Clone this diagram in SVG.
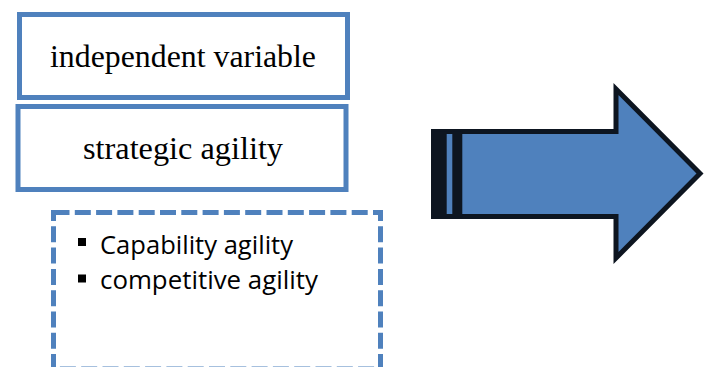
<svg xmlns="http://www.w3.org/2000/svg" width="709" height="367" viewBox="0 0 709 367">
  <style>
    .box { fill: #ffffff; stroke: #4F81BD; stroke-width: 5; }
    .dash { fill: none; stroke: #4F81BD; stroke-width: 5; stroke-dasharray: 16 5.3; }
    .serif { font-family: "Liberation Serif", "Times New Roman", serif; font-size: 32px; fill: #000; }
    .sans { font-family: "Open Sans", "Noto Sans", "Liberation Sans", sans-serif; font-size: 26px; fill: #000; }
    .bullet { fill: #000; }
    .arrow { fill: #4F81BD; stroke: #0D1520; stroke-width: 5; stroke-linejoin: miter; stroke-miterlimit: 10; }
  </style>

  <rect width="709" height="367" fill="#ffffff"/>

  <!-- heading box -->
  <g id="independent-variable">
    <rect class="box" x="19.5" y="14.5" width="328" height="83"/>
    <text class="serif" x="50" y="67" textLength="266" lengthAdjust="spacingAndGlyphs">independent variable</text>
  </g>

  <!-- construct box -->
  <g id="strategic-agility">
    <rect class="box" x="18" y="106.5" width="328" height="83"/>
    <text class="serif" x="83" y="159" textLength="200" lengthAdjust="spacingAndGlyphs">strategic agility</text>
  </g>

  <!-- dimensions list -->
  <g id="dimensions">
    <rect class="dash" x="53.5" y="212.5" width="327" height="156.5"/>
    <rect class="bullet" x="78" y="238" width="8" height="8"/>
    <text class="sans" x="100" y="254" textLength="193" lengthAdjust="spacingAndGlyphs">Capability agility</text>
    <rect class="bullet" x="78" y="274.5" width="8" height="8"/>
    <text class="sans" x="100" y="289" textLength="218" lengthAdjust="spacingAndGlyphs">competitive agility</text>
  </g>

  <!-- striped right arrow -->
  <g id="connectors">
    <g id="arrow">
      <polygon class="arrow" points="433.5,131.5 616,131.5 616,89 700,173.5 616,258 616,216.5 433.5,216.5"/>
      <rect x="433.5" y="131.5" width="28.8" height="85" fill="#0D1520"/>
      <rect x="446.7" y="134" width="5.6" height="80" fill="#4F81BD"/>
    </g>
  </g>
</svg>
